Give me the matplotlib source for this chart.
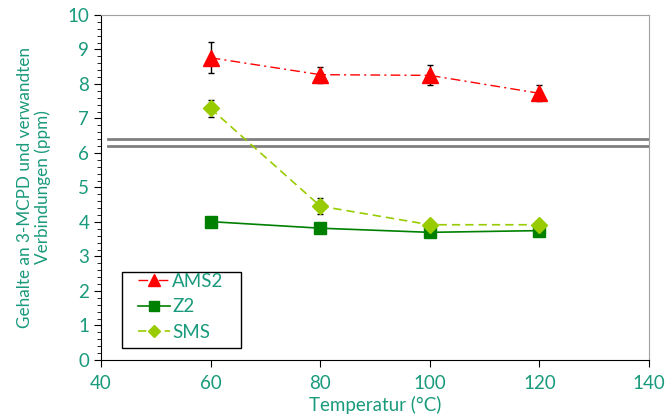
import matplotlib.pyplot as plt
from matplotlib.lines import Line2D
from matplotlib.patches import Rectangle
from matplotlib.ticker import MultipleLocator

plt.rcParams['font.family'] = ['Lato', 'DejaVu Sans']

temp = [60, 80, 100, 120]
ams2 = [8.76, 8.27, 8.25, 7.73]
ams2_err = [0.45, 0.23, 0.29, 0.23]
z2 = [4.01, 3.82, 3.70, 3.75]
sms = [7.29, 4.46, 3.92, 3.92]
sms_err = [0.24, 0.23, 0.0, 0.0]

# grenzwert-linien
limit_x = [41.3, 139.8]
limit_hi = [6.4, 6.4]
limit_lo = [6.2, 6.2]

teal = '#1a9a7c'
fs = 13.5

fig = plt.figure(figsize=(6.66, 4.2), dpi=100)
ax = fig.add_axes([0.1517, 0.1429, 0.8228, 0.8214])

ax.plot(limit_x, limit_hi, color='#808080', lw=2, zorder=1)
ax.plot(limit_x, limit_lo, color='#808080', lw=2, zorder=1)

ams2_style = dict(color='#ff0000', ls=(0, (7, 3, 1.5, 3)), lw=1, marker='^', ms=11)
z2_style = dict(color='#008000', ls='-', lw=1.2, marker='s', ms=8.5)
sms_style = dict(color='#99cc00', ls=(0, (5, 3)), lw=1.2, marker='D', ms=8)

ax.errorbar(temp, ams2, yerr=ams2_err, ecolor='black', elinewidth=1,
            capsize=2.5, capthick=1, zorder=3, **ams2_style)
ax.plot(temp, z2, zorder=3, **z2_style)
ax.errorbar(temp, sms, yerr=sms_err, ecolor='black', elinewidth=1, capsize=2.5,
            capthick=1, zorder=4, **sms_style)

ax.set_xlim(40, 140)
ax.set_ylim(0, 10)
ax.xaxis.set_major_locator(MultipleLocator(20))
ax.yaxis.set_major_locator(MultipleLocator(1))
ax.yaxis.set_minor_locator(MultipleLocator(0.2))
ax.tick_params(axis='both', which='major', direction='out', length=5,
               labelsize=fs, labelcolor=teal, color='black')
ax.tick_params(axis='x', pad=6)
ax.tick_params(axis='y', which='minor', direction='out', length=3, color='black')

for s in ['top', 'right']:
    ax.spines[s].set_color('#a0a0a0')
ax.spines['left'].set_color('black')
ax.spines['bottom'].set_color('black')

ax.set_xlabel('Temperatur (°C)', color=teal, fontsize=fs, labelpad=3)
ax.set_ylabel('Gehalte an 3-MCPD und verwandten\nVerbindungen (ppm)', color=teal,
              fontsize=12.3, labelpad=12, linespacing=1.1)

# legend box like excel: frame drawn separately
ax.add_patch(Rectangle((0.038, 0.035), 0.217, 0.22, transform=ax.transAxes,
                       fill=True, facecolor='white', edgecolor='black', lw=1,
                       zorder=5))
handles = [Line2D([], [], **ams2_style), Line2D([], [], **z2_style),
           Line2D([], [], **sms_style)]
labels = ['AMS2', 'Z2', 'SMS']
leg = ax.legend(handles, labels, loc='upper left', bbox_to_anchor=(0.068, 0.252),
                frameon=False, fontsize=fs, markerscale=0.8,
                handlelength=1.7, handletextpad=0.1, borderpad=0,
                labelspacing=0.45, borderaxespad=0)
leg.set_zorder(6)
for t in leg.get_texts():
    t.set_color(teal)

plt.savefig('out.png', dpi=100)
